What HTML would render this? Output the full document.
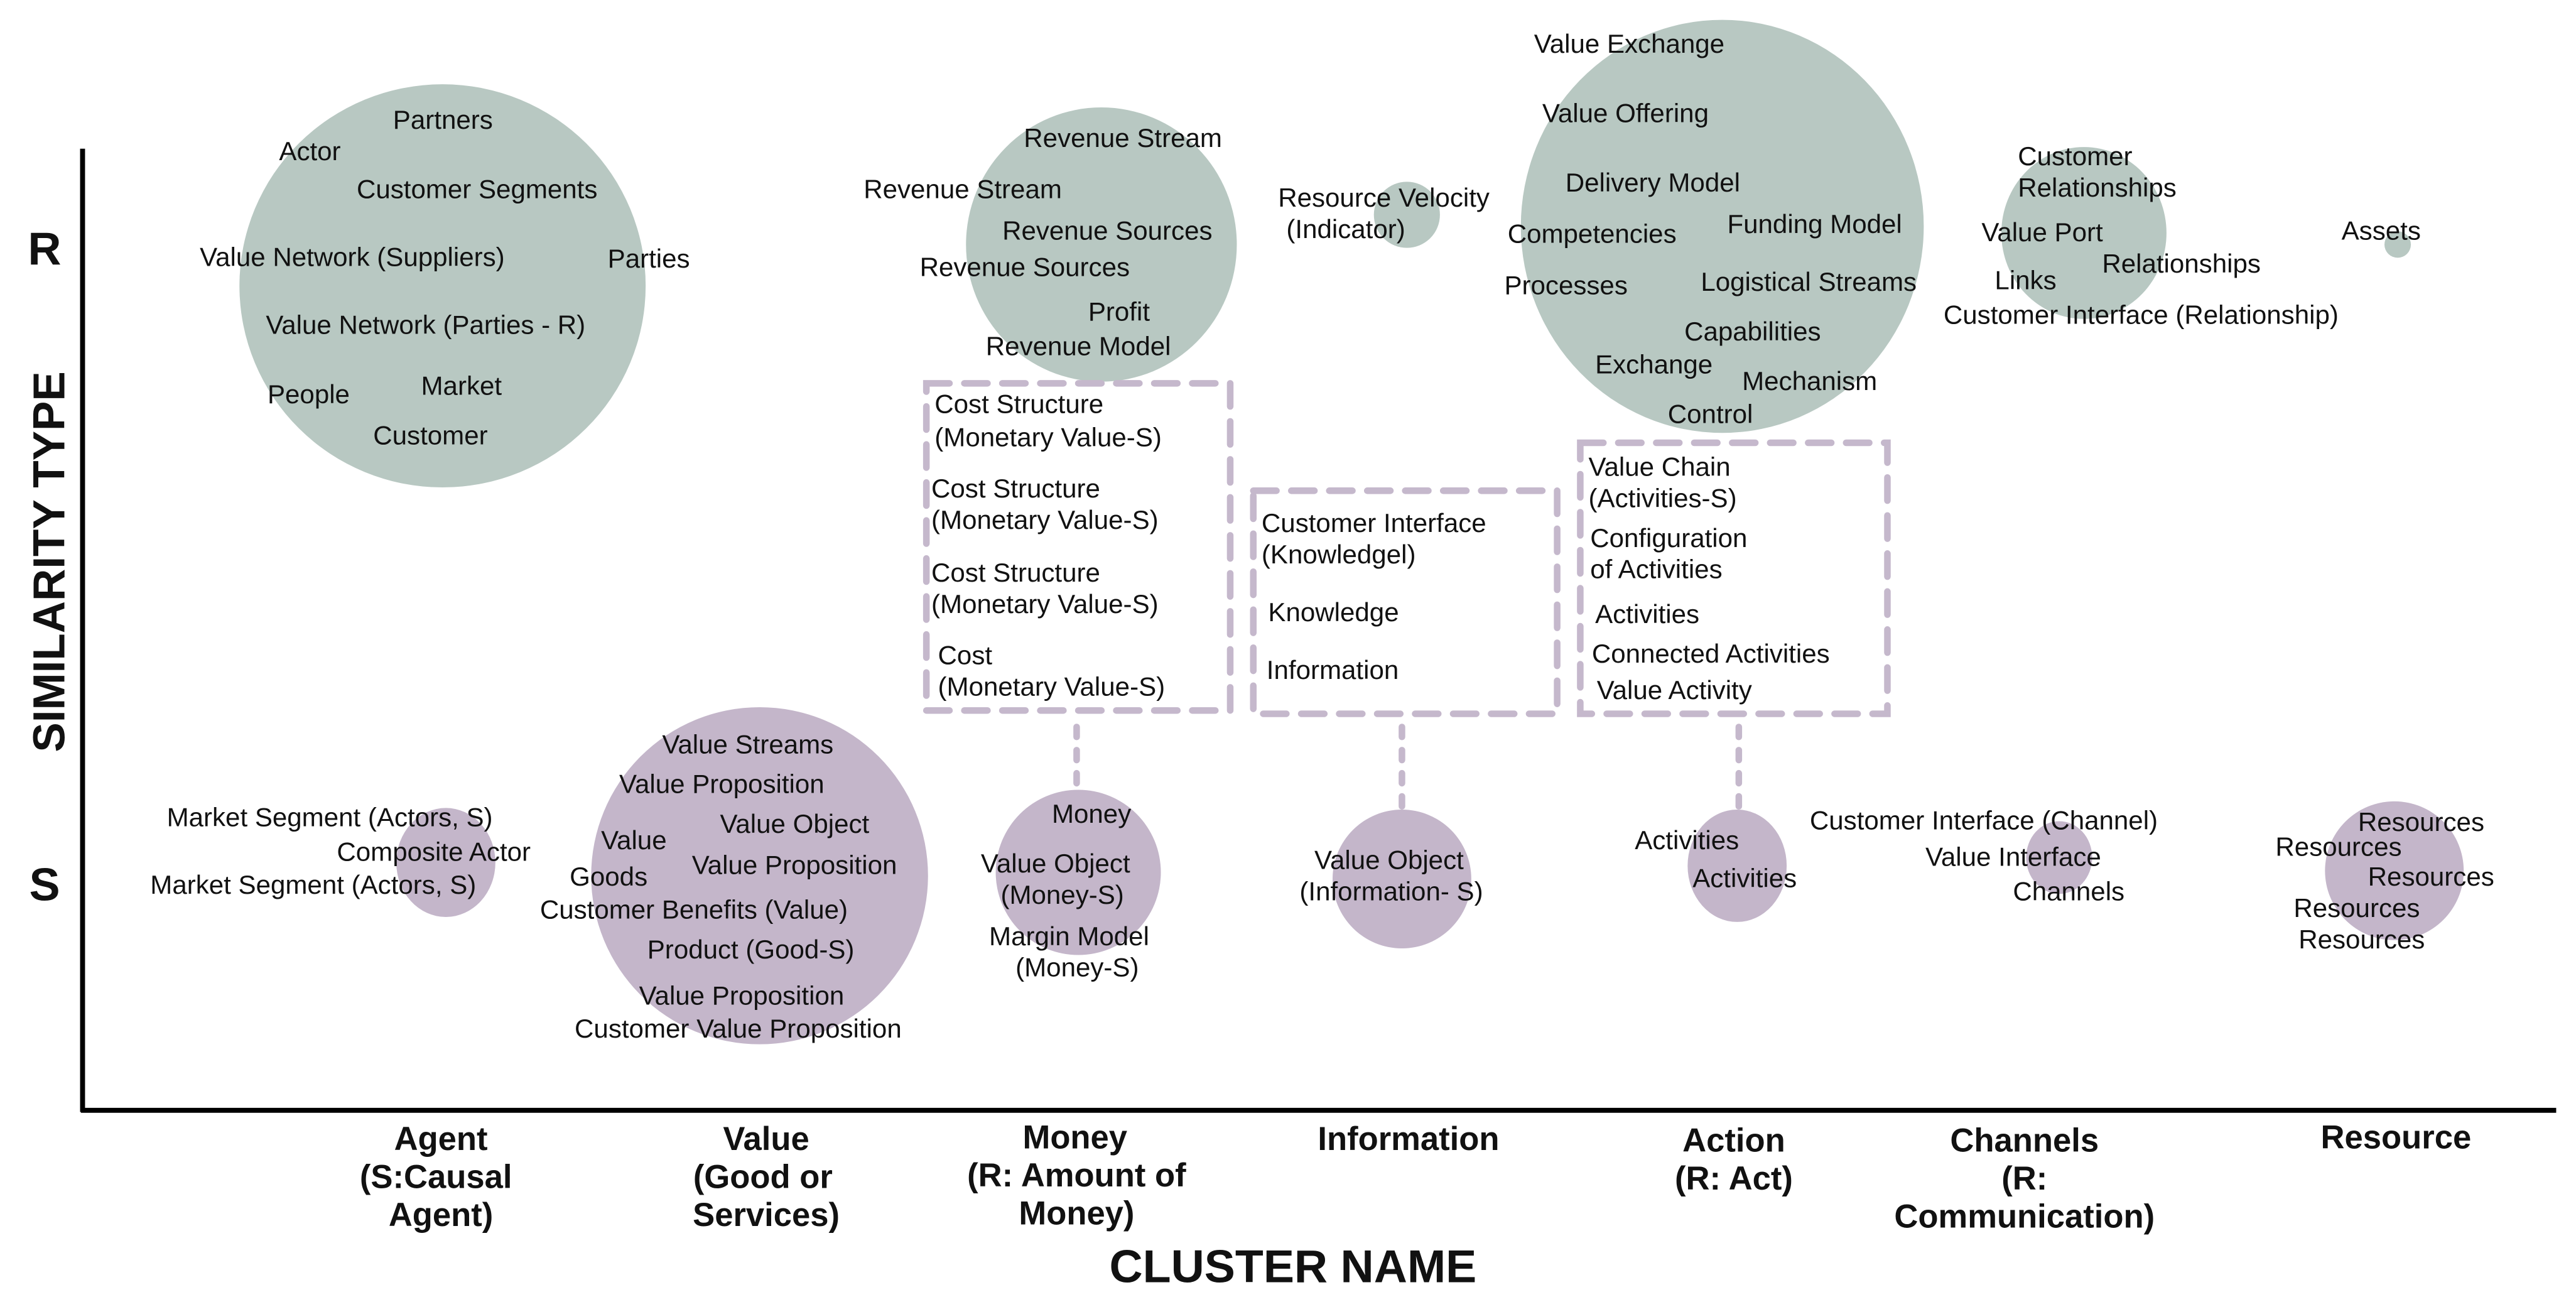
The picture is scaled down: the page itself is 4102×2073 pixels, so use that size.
<!DOCTYPE html>
<html><head><meta charset="utf-8"><style>
html,body{margin:0;padding:0;background:#fff;}
svg{display:block;}
text{font-family:"Liberation Sans",sans-serif;font-size:16px;fill:#111;}
.b{font-weight:bold;font-size:20px;text-anchor:middle;}
</style></head><body>
<svg width="4102" height="2073" viewBox="0 0 1560 788" preserveAspectRatio="none" xmlns="http://www.w3.org/2000/svg">
<g fill="#b8c8c2">
<ellipse cx="268" cy="173" rx="123" ry="122"/>
<ellipse cx="667" cy="148" rx="82" ry="83"/>
<circle cx="852" cy="130" r="20"/>
<ellipse cx="1043" cy="137" rx="122" ry="125"/>
<ellipse cx="1262" cy="141" rx="50" ry="52"/>
<circle cx="1452" cy="148" r="8"/>
</g>
<g fill="#c4b6ca">
<ellipse cx="270" cy="522" rx="30" ry="33"/>
<ellipse cx="460" cy="530" rx="102" ry="102"/>
<ellipse cx="653" cy="528" rx="50" ry="50"/>
<ellipse cx="849" cy="532" rx="42" ry="42"/>
<ellipse cx="1052" cy="524" rx="30" ry="34"/>
<ellipse cx="1247" cy="519" rx="20" ry="22"/>
<ellipse cx="1450" cy="527" rx="42" ry="42"/>
</g>
<g fill="none" stroke="#c5b8cc" stroke-width="4" stroke-dasharray="14 9" stroke-linecap="round">
<rect x="561" y="232" width="184" height="198"/>
<rect x="759" y="297" width="184" height="135"/>
<rect x="957" y="268" width="186" height="164"/>
<line x1="652" y1="440" x2="652" y2="475" stroke-dasharray="6 8"/>
<line x1="849" y1="440" x2="849" y2="490" stroke-dasharray="6 8"/>
<line x1="1053" y1="440" x2="1053" y2="490" stroke-dasharray="6 8"/>
</g>
<g stroke="#000" stroke-width="3">
<line x1="50" y1="90" x2="50" y2="673"/>
<line x1="49" y1="672" x2="1548" y2="672"/>
</g>
<text x="238" y="78">Partners</text>
<text x="169" y="97">Actor</text>
<text x="216" y="120">Customer Segments</text>
<text x="121" y="161">Value Network (Suppliers)</text>
<text x="368" y="162">Parties</text>
<text x="161" y="202">Value Network (Parties - R)</text>
<text x="162" y="244">People</text>
<text x="255" y="239">Market</text>
<text x="226" y="269">Customer</text>
<text x="620" y="89">Revenue Stream</text>
<text x="523" y="120">Revenue Stream</text>
<text x="607" y="145">Revenue Sources</text>
<text x="557" y="167">Revenue Sources</text>
<text x="659" y="194">Profit</text>
<text x="597" y="215">Revenue Model</text>
<text x="774" y="125">Resource Velocity</text>
<text x="779" y="144">(Indicator)</text>
<text x="929" y="32">Value Exchange</text>
<text x="934" y="74">Value Offering</text>
<text x="948" y="116">Delivery Model</text>
<text x="913" y="147">Competencies</text>
<text x="1046" y="141">Funding Model</text>
<text x="911" y="178">Processes</text>
<text x="1030" y="176">Logistical Streams</text>
<text x="1020" y="206">Capabilities</text>
<text x="966" y="226">Exchange</text>
<text x="1055" y="236">Mechanism</text>
<text x="1010" y="256">Control</text>
<text x="1222" y="100">Customer</text>
<text x="1222" y="119">Relationships</text>
<text x="1200" y="146">Value Port</text>
<text x="1273" y="165">Relationships</text>
<text x="1208" y="175">Links</text>
<text x="1177" y="196">Customer Interface (Relationship)</text>
<text x="1418" y="145">Assets</text>
<text x="566" y="250">Cost Structure</text>
<text x="566" y="270">(Monetary Value-S)</text>
<text x="564" y="301">Cost Structure</text>
<text x="564" y="320">(Monetary Value-S)</text>
<text x="564" y="352">Cost Structure</text>
<text x="564" y="371">(Monetary Value-S)</text>
<text x="568" y="402">Cost</text>
<text x="568" y="421">(Monetary Value-S)</text>
<text x="764" y="322">Customer Interface</text>
<text x="764" y="341">(Knowledgel)</text>
<text x="768" y="376">Knowledge</text>
<text x="767" y="411">Information</text>
<text x="962" y="288">Value Chain</text>
<text x="962" y="307">(Activities-S)</text>
<text x="963" y="331">Configuration</text>
<text x="963" y="350">of Activities</text>
<text x="966" y="377">Activities</text>
<text x="964" y="401">Connected Activities</text>
<text x="967" y="423">Value Activity</text>
<text x="101" y="500">Market Segment (Actors, S)</text>
<text x="204" y="521">Composite Actor</text>
<text x="91" y="541">Market Segment (Actors, S)</text>
<text x="401" y="456">Value Streams</text>
<text x="375" y="480">Value Proposition</text>
<text x="436" y="504">Value Object</text>
<text x="364" y="514">Value</text>
<text x="419" y="529">Value Proposition</text>
<text x="345" y="536">Goods</text>
<text x="327" y="556">Customer Benefits (Value)</text>
<text x="392" y="580">Product (Good-S)</text>
<text x="387" y="608">Value Proposition</text>
<text x="348" y="628">Customer Value Proposition</text>
<text x="637" y="498">Money</text>
<text x="594" y="528">Value Object</text>
<text x="606" y="547">(Money-S)</text>
<text x="599" y="572">Margin Model</text>
<text x="615" y="591">(Money-S)</text>
<text x="796" y="526">Value Object</text>
<text x="787" y="545">(Information- S)</text>
<text x="990" y="514">Activities</text>
<text x="1025" y="537">Activities</text>
<text x="1096" y="502">Customer Interface (Channel)</text>
<text x="1166" y="524">Value Interface</text>
<text x="1219" y="545">Channels</text>
<text x="1428" y="503">Resources</text>
<text x="1378" y="518">Resources</text>
<text x="1434" y="536">Resources</text>
<text x="1389" y="555">Resources</text>
<text x="1392" y="574">Resources</text>
<text class="b" x="27" y="160" style="font-size:28px">R</text>
<text class="b" x="27" y="545" style="font-size:28px">S</text>
<text class="b" transform="translate(39,340) rotate(-90)" style="font-size:27px">SIMILARITY TYPE</text>
<text class="b" x="267" y="696">Agent</text>
<text class="b" x="264" y="719">(S:Causal</text>
<text class="b" x="267" y="742">Agent)</text>
<text class="b" x="464" y="696">Value</text>
<text class="b" x="462" y="719">(Good or</text>
<text class="b" x="464" y="742">Services)</text>
<text class="b" x="651" y="695">Money</text>
<text class="b" x="652" y="718">(R: Amount of</text>
<text class="b" x="652" y="741">Money)</text>
<text class="b" x="853" y="696">Information</text>
<text class="b" x="1050" y="697">Action</text>
<text class="b" x="1050" y="720">(R: Act)</text>
<text class="b" x="1226" y="697">Channels</text>
<text class="b" x="1226" y="720">(R:</text>
<text class="b" x="1226" y="743">Communication)</text>
<text class="b" x="1451" y="695">Resource</text>
<text class="b" x="783" y="776" style="font-size:28px">CLUSTER NAME</text>
</svg>
</body></html>
